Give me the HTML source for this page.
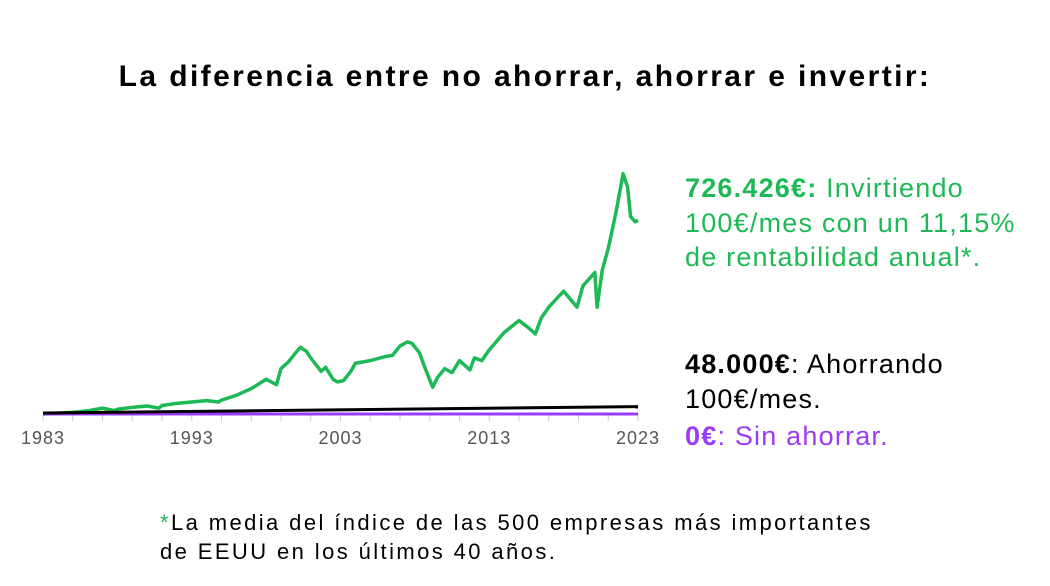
<!DOCTYPE html>
<html><head><meta charset="utf-8"><style>
body{margin:0;width:1050px;height:586px;background:#fff;font-family:"Liberation Sans",sans-serif;position:relative;overflow:hidden}
.t{position:absolute;white-space:nowrap}
.g{color:#1db954}.p{color:#9b3cf5}
</style></head><body>
<div class="t" style="left:0;width:1050px;text-align:center;top:60px;font-size:30px;letter-spacing:2.4px;font-weight:bold">La diferencia entre no ahorrar, ahorrar e invertir:</div>
<svg width="1050" height="586" style="position:absolute;left:0;top:0" id="svg"></svg>
<div class="t g" style="left:685px;top:171px;font-size:27px;letter-spacing:1.2px;line-height:34.5px"><b>726.426€:</b> Invirtiendo<br>100€/mes con un 11,15%<br>de rentabilidad anual*.</div>
<div class="t" style="left:685px;top:347px;font-size:27px;letter-spacing:1.2px;line-height:34.5px"><b>48.000€</b>: Ahorrando<br>100€/mes.</div>
<div class="t p" style="left:685px;top:421px;font-size:27px;letter-spacing:1.2px"><b>0€</b>: Sin ahorrar.</div>
<div class="t" style="left:160px;top:508px;font-size:22px;letter-spacing:2.4px;line-height:29px"><span class="g">*</span>La media del índice de las 500 empresas más importantes<br>de EEUU en los últimos 40 años.</div>
<script>
const years=[1983,1984,1985,1986,1987,1987.8,1988,1989,1990,1990.8,1991,1992,1993,1994,1994.8,1995,1996,1997,1998,1998.7,1999,1999.5,2000,2000.3,2000.7,2001,2001.7,2002,2002.5,2002.8,2003.2,2003.7,2004,2005,2006,2006.5,2007,2007.5,2007.8,2008.3,2008.7,2009.2,2009.5,2010,2010.5,2011,2011.7,2012,2012.5,2013,2014,2015,2015.7,2016.1,2016.5,2017,2018,2018.9,2019.3,2020.1,2020.25,2020.6,2021,2021.5,2022,2022.3,2022.5,2022.8,2023];
const investValues=[0,3,6,12,22,13,18,25,30,22,32,40,45,50,45,52,70,95,130,110,170,195,230,250,235,210,160,175,130,120,125,160,190,200,215,220,255,270,265,230,170,100,135,170,155,200,165,210,200,240,305,350,320,300,360,400,460,400,480,530,400,540,620,750,900,850,740,720,726];
const saveYears=[1983,2023];
const saveValues=[0,48];
const noSaveValues=[0,0];
const tickLabels=["1983","1993","2003","2013","2023"];
const svg=document.getElementById('svg');const NS='http://www.w3.org/2000/svg';
const x=y=>43+(y-1983)/40*595;
const yv=v=>414-v*0.267;
function mk(t,a,n){const e=document.createElementNS(NS,t);for(const k in a)e.setAttribute(k,a[k]);


svg.appendChild(e);return e;}
mk('line',{x1:43,x2:638,y1:415,y2:415,stroke:'#bbb','stroke-width':1},'x-axis');
for(let yr=1983;yr<=2023;yr+=2){mk('line',{x1:x(yr),x2:x(yr),y1:415,y2:421,stroke:'#ccc'},'x-tick');}
tickLabels.forEach(l=>{const t=mk('text',{x:x(+l),y:444,'text-anchor':'middle','font-size':18,'letter-spacing':1,fill:'#555','font-family':'Liberation Sans'},'x-tick-label');t.textContent=l;});
const pts=years.map((yr,i)=>x(yr)+','+yv(investValues[i])).join(' ');
mk('polyline',{points:pts,fill:'none',stroke:'#1db954','stroke-width':3.5,'stroke-linejoin':'round'},'invest-line');
mk('polyline',{points:saveYears.map((yr,i)=>x(yr)+','+yv(noSaveValues[i]+0)).join(' '),fill:'none',stroke:'#9b3cf5','stroke-width':3},'nosave-line');
mk('polyline',{points:saveYears.map((yr,i)=>x(yr)+','+(yv(saveValues[i]*0.5)-1)).join(' '),fill:'none',stroke:'#000','stroke-width':3},'save-line');
</script>
</body></html>
